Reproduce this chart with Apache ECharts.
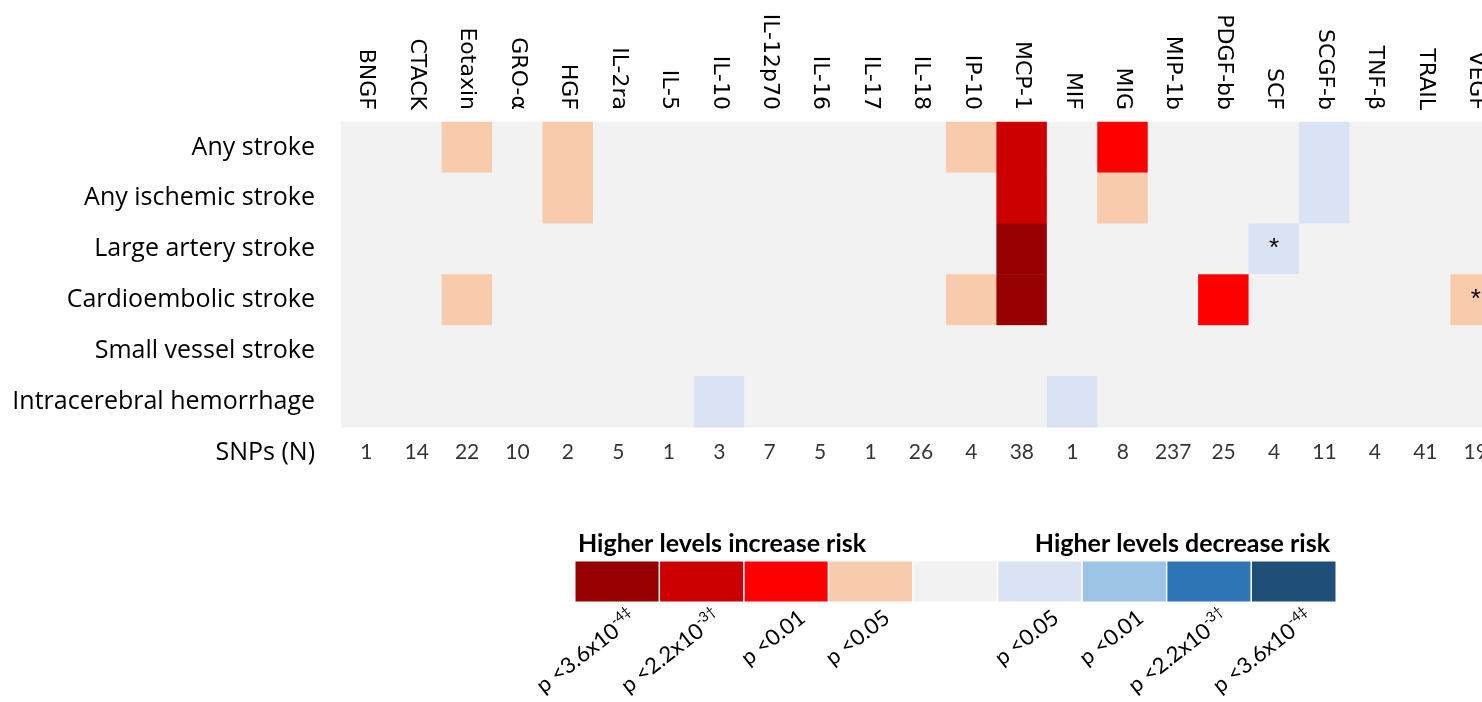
<!DOCTYPE html>
<html>
<head>
<meta charset="utf-8">
<script src="https://cdn.jsdelivr.net/npm/echarts@6/dist/echarts.min.js"></script>
<style>
  html, body { margin: 0; padding: 0; background: #ffffff; }
  #chart { width: 1482px; height: 702px; }
</style>
</head>
<body>
<div id="chart"></div>
<script>
// Cytokines tested (columns) and stroke outcomes (rows)
const cytokines = ['BNGF', 'CTACK', 'Eotaxin', 'GRO-α', 'HGF', 'IL-2ra', 'IL-5', 'IL-10', 'IL-12p70', 'IL-16',
  'IL-17', 'IL-18', 'IP-10', 'MCP-1', 'MIF', 'MIG', 'MIP-1b', 'PDGF-bb', 'SCF', 'SCGF-b', 'TNF-β', 'TRAIL', 'VEGF'];
const outcomes = ['Any stroke', 'Any ischemic stroke', 'Large artery stroke', 'Cardioembolic stroke',
  'Small vessel stroke', 'Intracerebral hemorrhage'];
const snpRowLabel = 'SNPs (N)';

// Significance level per cytokine, same order as `cytokines`.
//  4: p<3.6x10-4, 3: p<2.2x10-3, 2: p<0.01, 1: p<0.05 (higher levels increase risk)
// -1..-4: same thresholds, higher levels decrease risk; 0: not significant
const anyStroke               = [0, 0, 1, 0, 1, 0, 0, 0, 0, 0, 0, 0, 1, 3, 0, 2, 0, 0, 0, -1, 0, 0, 0];
const anyIschemicStroke       = [0, 0, 0, 0, 1, 0, 0, 0, 0, 0, 0, 0, 0, 3, 0, 1, 0, 0, 0, -1, 0, 0, 0];
const largeArteryStroke       = [0, 0, 0, 0, 0, 0, 0, 0, 0, 0, 0, 0, 0, 4, 0, 0, 0, 0, -1, 0, 0, 0, 0];
const cardioembolicStroke     = [0, 0, 1, 0, 0, 0, 0, 0, 0, 0, 0, 0, 1, 4, 0, 0, 0, 2, 0, 0, 0, 0, 1];
const smallVesselStroke       = [0, 0, 0, 0, 0, 0, 0, 0, 0, 0, 0, 0, 0, 0, 0, 0, 0, 0, 0, 0, 0, 0, 0];
const intracerebralHemorrhage = [0, 0, 0, 0, 0, 0, 0, -1, 0, 0, 0, 0, 0, 0, -1, 0, 0, 0, 0, 0, 0, 0, 0];

// Number of instrument SNPs per cytokine
const snpCounts = [1, 14, 22, 10, 2, 5, 1, 3, 7, 5, 1, 26, 4, 38, 1, 8, 237, 25, 4, 11, 4, 41, 19];

// Cells flagged with an asterisk
const starredCells = [['SCF', 'Large artery stroke'], ['VEGF', 'Cardioembolic stroke']];

// Colour key
const legendLevels = [4, 3, 2, 1, 0, -1, -2, -3, -4];
const legendLabels = ['p <3.6x10-4‡', 'p <2.2x10-3†', 'p <0.01', 'p <0.05', '',
  'p <0.05', 'p <0.01', 'p <2.2x10-3†', 'p <3.6x10-4‡'];

const levelRows = [anyStroke, anyIschemicStroke, largeArteryStroke, cardioembolicStroke,
  smallVesselStroke, intracerebralHemorrhage];

const cellData = [];
levelRows.forEach((row, yi) => {
  row.forEach((level, xi) => {
    cellData.push([cytokines[xi], outcomes[yi], level]);
  });
});
const isStarred = (c, o) => starredCells.some(s => s[0] === c && s[1] === o);

const snpData = snpCounts.map((n, i) => [cytokines[i], snpRowLabel, n]);
const legendData = legendLevels.map((lv, i) => [i, 0, lv]);

const pieces = [
  { value: 4, color: '#970000' },
  { value: 3, color: '#cc0000' },
  { value: 2, color: '#ff0000' },
  { value: 1, color: '#f8cbad' },
  { value: 0, color: '#f2f2f2' },
  { value: -1, color: '#dae3f3' },
  { value: -2, color: '#9dc3e6' },
  { value: -3, color: '#2e75b6' },
  { value: -4, color: '#1f4e79' }
];

// "p <2.2x10-3†" -> raised exponent
function formatP(s) {
  if (!s) return '';
  return s.replace(/x10(-\d.)$/, 'x10{sup|$1}');
}

const chart = echarts.init(document.getElementById('chart'), null, { renderer: 'canvas' });
chart.setOption({
  animation: false,
  backgroundColor: '#ffffff',
  grid: [
    { left: 341, top: 122, width: 1160, height: 356, outerBoundsMode: 'none', containLabel: false },
    { left: 575, top: 561, width: 761, height: 41, outerBoundsMode: 'none', containLabel: false },
    { left: 591, top: 561, width: 761, height: 41, outerBoundsMode: 'none', containLabel: false }
  ],
  xAxis: [
    {
      gridIndex: 0, type: 'category', position: 'top', data: cytokines,
      axisLine: { show: false }, axisTick: { show: false }, splitLine: { show: false },
      axisLabel: { rotate: 90, margin: 12, interval: 0, color: '#000000',
        fontFamily: '"DejaVu Sans", sans-serif', fontSize: 22 }
    },
    {
      gridIndex: 1, type: 'category', data: legendLevels.map(String),
      axisLine: { show: false }, axisTick: { show: false }, axisLabel: { show: false }
    },
    {
      gridIndex: 2, type: 'category', data: legendLabels,
      axisLine: { show: false }, axisTick: { show: false },
      axisLabel: {
        interval: 0, rotate: 38, margin: 13, color: '#000000',
        fontFamily: 'Lato', fontSize: 22,
        formatter: v => formatP(v),
        rich: {
          sup: { fontFamily: 'Lato', fontSize: 14, color: '#000000', padding: [0, 0, 14, 0] }
        }
      }
    }
  ],
  yAxis: [
    {
      gridIndex: 0, type: 'category', inverse: true, data: outcomes.concat([snpRowLabel]),
      axisLine: { show: false }, axisTick: { show: false }, splitLine: { show: false },
      axisLabel: { margin: 26, color: '#000000', fontFamily: 'Open Sans', fontSize: 25 }
    },
    { gridIndex: 1, type: 'category', data: [''], show: false },
    { gridIndex: 2, type: 'category', data: [''], show: false }
  ],
  visualMap: {
    type: 'piecewise', show: false, dimension: 2, seriesIndex: [0, 2], pieces: pieces
  },
  graphic: [
    { type: 'text', left: 578, top: 531,
      style: { text: 'Higher levels increase risk', font: 'bold 25px Lato', fill: '#000000' } },
    { type: 'text', right: 152, top: 531,
      style: { text: 'Higher levels decrease risk', font: 'bold 25px Lato', fill: '#000000' } }
  ],
  series: [
    {
      type: 'heatmap', xAxisIndex: 0, yAxisIndex: 0, data: cellData,
      itemStyle: { borderWidth: 0 },
      emphasis: { disabled: true },
      label: {
        show: true, color: '#000000', fontFamily: 'Liberation Sans', fontSize: 26,
        formatter: p => isStarred(p.value[0], p.value[1]) ? '*' : ''
      }
    },
    {
      type: 'scatter', xAxisIndex: 0, yAxisIndex: 0, data: snpData,
      symbolSize: 1, itemStyle: { color: 'rgba(0,0,0,0)' },
      emphasis: { disabled: true },
      label: { show: true, position: 'inside', color: '#000000', fontFamily: 'Lato', fontSize: 21,
        formatter: p => String(p.value[2]) }
    },
    {
      type: 'heatmap', xAxisIndex: 1, yAxisIndex: 1, data: legendData,
      itemStyle: { borderColor: '#ffffff', borderWidth: 1.5 },
      emphasis: { disabled: true }
    }
  ]
});
</script>
</body>
</html>
